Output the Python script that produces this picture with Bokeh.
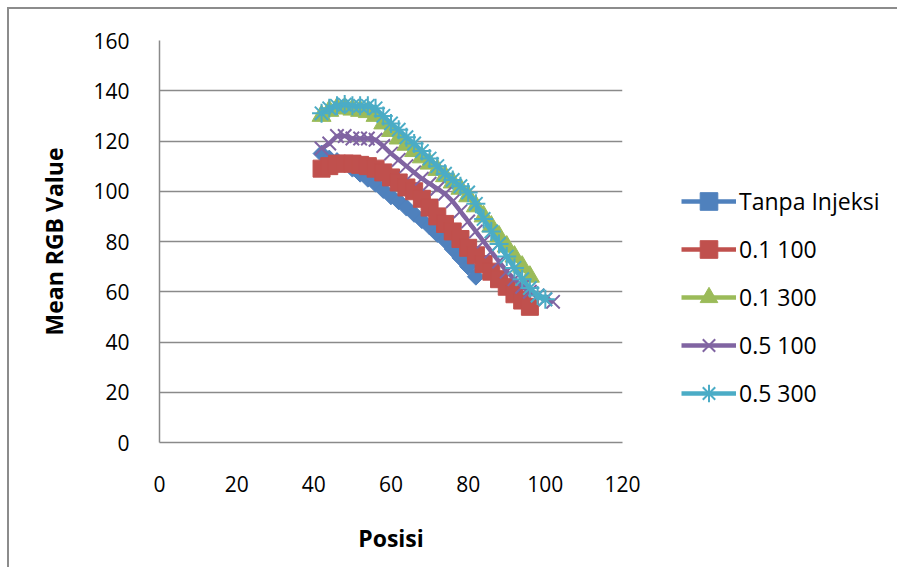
import math
from bokeh.plotting import figure
from bokeh.models import Range1d, FixedTicker, Legend, LegendItem
from bokeh.embed import file_html
from bokeh.resources import INLINE

# ---- data ----
x_tanpa = [42, 44, 46, 48, 50, 52, 54, 56, 58, 60, 62, 64, 66, 68, 70, 72, 74, 76, 78, 80, 82]
y_tanpa = [115, 113, 112, 111, 109, 107, 105, 103, 100.5, 98, 96, 93.5, 91, 88.5, 86, 83, 80.5, 77, 73.5, 70, 66]

x_01_100 = [42, 44, 46, 48, 50, 52, 54, 56, 58, 60, 62, 64, 66, 68, 70, 72, 74, 76, 78, 80, 82, 84, 86, 88, 90, 92, 94, 96]
y_01_100 = [109, 110, 111, 111, 111, 110.5, 110, 109, 107.5, 105.5, 103.5, 101.5, 100, 97, 93.5, 90, 87, 84, 81, 77.5, 74.5, 71, 68, 65, 62, 59, 56.5, 54]

x_01_300 = [42, 44, 46, 48, 50, 52, 54, 56, 58, 60, 62, 64, 66, 68, 70, 72, 74, 76, 78, 80, 82, 84, 86, 88, 90, 92, 94, 96]
y_01_300 = [130, 132, 133, 133, 132.5, 132, 131.5, 130, 127, 124, 121, 118.5, 116, 113.5, 111, 108.5, 106, 103.5, 101, 98, 94, 90, 86, 82, 78, 74, 70, 66]

x_05_100 = [42, 44, 46, 48, 50, 52, 54, 56, 58, 60, 62, 64, 66, 68, 70, 72, 74, 76, 78, 80, 82, 84, 86, 88, 90, 92, 94, 96, 98, 100, 102]
y_05_100 = [117, 119, 122, 122, 121, 121, 121, 120.5, 118, 115, 112.5, 110, 107.5, 105, 103, 101, 99, 96, 92, 88, 84, 80, 76, 72, 68, 65, 62, 60, 58.5, 57, 56]

x_05_300 = [42, 44, 46, 48, 50, 52, 54, 56, 58, 60, 62, 64, 66, 68, 70, 72, 74, 76, 78, 80, 82, 84, 86, 88, 90, 92, 94, 96, 98, 100]
y_05_300 = [131, 133, 134, 134.5, 134, 134, 134, 133, 130, 127, 124.5, 121.5, 119, 116, 113, 110, 107, 104.5, 102, 99.5, 95, 89, 84, 79, 74, 69.5, 65, 61.5, 58.5, 57]

series_names = ["Tanpa Injeksi", "0.1 100", "0.1 300", "0.5 100", "0.5 300"]
x_ticks = [0, 20, 40, 60, 80, 100, 120]
y_ticks = [0, 20, 40, 60, 80, 100, 120, 140, 160]

FONT = "Open Sans"
GRID = "#8a8a8a"

p = figure(frame_width=463, frame_height=402, output_backend="svg", toolbar_location=None,
           x_range=Range1d(0, 120), y_range=Range1d(0, 160),
           min_border_left=150, min_border_right=290, min_border_top=31, min_border_bottom=127)
p.margin = (9, 0, 0, 9)
p.styles = {"box-shadow": "-2px -2px 0 0 #8c8c8c"}
p.outline_line_color = None
p.background_fill_color = "white"
p.border_fill_color = "white"

p.xgrid.grid_line_color = None
p.ygrid.grid_line_color = GRID
p.ygrid.grid_line_width = 1.5
p.xaxis.ticker = FixedTicker(ticks=x_ticks)
p.yaxis.ticker = FixedTicker(ticks=y_ticks)
for ax in (p.xaxis[0], p.yaxis[0]):
    ax.axis_line_color = GRID
    ax.axis_line_width = 1.5
    ax.major_tick_line_color = None
    ax.minor_tick_line_color = None
    ax.major_label_text_font = FONT
    ax.major_label_text_font_size = "21px"
    ax.major_label_text_color = "black"
    ax.axis_label_text_font = FONT
    ax.axis_label_text_font_style = "bold"
    ax.axis_label_text_font_size = "23px"
    ax.axis_label_text_color = "black"
p.xaxis.major_label_standoff = 27
p.yaxis.major_label_standoff = 24
p.xaxis.axis_label = "Posisi"
p.yaxis.axis_label = "Mean RGB Value"
p.xaxis.axis_label_standoff = 27
p.yaxis.axis_label_standoff = 20

colors = ["#4F81BD", "#C0504D", "#9BBB59", "#8064A2", "#4BACC6"]
xs = [x_tanpa, x_01_100, x_01_300, x_05_100, x_05_300]
ys = [y_tanpa, y_01_100, y_01_300, y_05_100, y_05_300]
markers = ["square", "square", "triangle", "x", "asterisk"]
sizes = [12, 17, 19, 19, 19]
angles = [math.pi / 4, 0, 0, 0, 0]

items = []
for name, c, x, y, m, s, a in zip(series_names, colors, xs, ys, markers, sizes, angles):
    ln = p.line(x, y, line_color=c, line_width=4.5)
    sc = p.scatter(x, y, marker=m, size=s, angle=a, fill_color=c, line_color=c,
                   line_width=2 if m in ("x", "asterisk") else 1)
    items.append(LegendItem(label=name, renderers=[ln, sc]))

legend = Legend(items=items, location=(59, 27), orientation="vertical",
                glyph_width=55, glyph_height=44, spacing=4, label_standoff=3,
                padding=0, margin=0, border_line_color=None, background_fill_alpha=0,
                label_text_font=FONT, label_text_font_size="23px", label_text_color="black")
p.add_layout(legend, "right")

open("out.html", "w").write(file_html(p, INLINE))
